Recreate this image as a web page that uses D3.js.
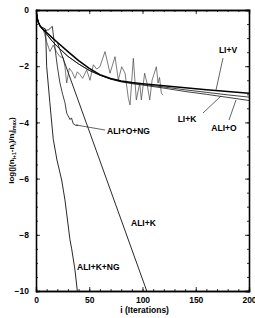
<!DOCTYPE html>
<html>
<head>
<meta charset="utf-8">
<script src="https://cdn.jsdelivr.net/npm/d3@7"></script>
<style>
  body { margin: 0; background: #fff; }
  text { font-family: "Liberation Sans", Arial, sans-serif; font-weight: bold; }
</style>
</head>
<body>
<svg id="chart"></svg>
<script>
// iterations (i) and log residuals for each run
var liV = [[0,0],[1,-0.3],[2,-0.42],[4,-0.58],[7,-0.7],[10,-0.8],[15,-0.98],[20,-1.15],[30,-1.48],[40,-1.8],[50,-2.08],[60,-2.3],[70,-2.44],[80,-2.53],[90,-2.58],[100,-2.62],[120,-2.7],[140,-2.77],[160,-2.84],[180,-2.9],[200,-2.96]];
var liK = [[0,0],[1,-0.3],[2,-0.42],[4,-0.58],[7,-0.72],[10,-0.86],[15,-1.1],[20,-1.3],[30,-1.65],[40,-1.92],[50,-2.15],[60,-2.32],[70,-2.45],[80,-2.54],[90,-2.6],[100,-2.65],[120,-2.74],[140,-2.84],[160,-2.93],[180,-3.02],[200,-3.1]];
var aliO = [[0,0],[1,-0.3],[2,-0.42],[4,-0.58],[7,-0.72],[10,-0.86],[15,-1.1],[20,-1.3],[30,-1.65],[40,-1.92],[50,-2.15],[60,-2.32],[70,-2.46],[80,-2.56],[90,-2.62],[100,-2.67],[120,-2.78],[140,-2.9],[160,-3.0],[180,-3.11],[200,-3.22]];
var aliONoisy = [[7,-0.72],[10,-1.13],[13.1,-1.48],[16.2,-1.25],[19.4,-1.5],[22.5,-1.66],[25.6,-1.7],[27.2,-2.02],[28.8,-2.6],[31.3,-2.07],[33.8,-2.2],[36.6,-2.43],[38.8,-2.2],[41.3,-2.3],[43.8,-2.43],[47.6,-2.13],[50.7,-2.5],[53.8,-1.95],[57,-2.1],[60,-2.02],[64.8,-1.48],[69.5,-2.25],[74.2,-1.66],[77.3,-2.49],[80.5,-2.02],[83.6,-2.25],[86.7,-3.14],[88.3,-3.38],[91.4,-1.72],[94.2,-3.2],[97.4,-2.6],[98.9,-3.2],[102,-2.25],[104.2,-2.6],[106.8,-3.2],[109,-2.5],[113,-2.02],[114.6,-2.6],[116,-2.4],[117.7,-2.96],[119.2,-3.03]];
var aliONG = [[0,0],[2,-0.42],[4,-0.58],[8,-0.74],[12,-0.7],[15.3,-0.58],[17,-1.1],[20,-2.0],[22.5,-2.6],[25,-3.0],[27.2,-3.3],[28.8,-3.67],[32,-3.9],[33.3,-3.84],[35,-4.05],[37,-4.1],[39.5,-4.1]];
var aliK = [[0,0],[2,-0.42],[4,-0.58],[8,-0.74],[14,-0.95],[20,-1.15],[104,-10]];
var aliKNG = [[0,0],[2,-0.42],[4,-0.58],[9,-0.68],[10,-2.0],[13,-3.3],[16.2,-4.6],[19.7,-5.34],[24.1,-6.05],[27.2,-6.76],[31.9,-8.18],[33.5,-8.5],[36.6,-9.25],[38.8,-10]];

var xTicks = [0, 50, 100, 150, 200];
var yTicks = [0, -2, -4, -6, -8, -10];

var W = 255, H = 318;
var margin = { top: 10, right: 6, bottom: 27, left: 36 };
var width = W - margin.left - margin.right;
var height = H - margin.top - margin.bottom;

var x = d3.scaleLinear().domain([0, 200]).range([0, width]);
var y = d3.scaleLinear().domain([0, -10]).range([0, height]);

var svg = d3.select("#chart").attr("width", W).attr("height", H);
var g = svg.append("g").attr("transform", "translate(" + margin.left + "," + margin.top + ")");

var line = d3.line().x(function (d) { return x(d[0]); }).y(function (d) { return y(d[1]); });

g.append("defs").append("clipPath").attr("id", "clip")
    .append("rect").attr("width", width).attr("height", height);

var plot = g.append("g").attr("clip-path", "url(#clip)");

function draw(data, w, col) {
    plot.append("path").datum(data)
        .attr("fill", "none").attr("stroke", col).attr("stroke-width", w)
        .attr("stroke-linejoin", "round")
        .attr("d", line);
}
draw(aliONoisy, 0.7, "#444");
draw(aliO, 0.8, "#111");
draw(liK, 0.8, "#111");
draw(aliONG, 0.8, "#111");
draw(aliK, 0.9, "#111");
draw(aliKNG, 0.9, "#111");
draw(liV, 1.5, "#000");

// axes (ticks inward, on all sides)
var xMinor = d3.range(0, 201, 10);
var yMinor = d3.range(0, -10.01, -0.5);

g.append("g").attr("transform", "translate(0," + height + ")")
    .call(d3.axisTop(x).tickValues(xMinor).tickSize(2).tickFormat(""));
g.append("g").attr("transform", "translate(0," + height + ")")
    .call(d3.axisBottom(x).tickValues(xTicks).tickSize(-4).tickPadding(6).tickFormat(d3.format("d")));
g.append("g")
    .call(d3.axisBottom(x).tickValues(xMinor).tickSize(2).tickFormat(""));
g.append("g")
    .call(d3.axisBottom(x).tickValues(xTicks).tickSize(4).tickFormat(""));

g.append("g")
    .call(d3.axisRight(y).tickValues(yMinor).tickSize(2).tickFormat(""));
g.append("g")
    .call(d3.axisLeft(y).tickValues(yTicks).tickSize(-4).tickPadding(7).tickFormat(d3.format("d")));
g.append("g").attr("transform", "translate(" + width + ",0)")
    .call(d3.axisLeft(y).tickValues(yMinor).tickSize(2).tickFormat(""));
g.append("g").attr("transform", "translate(" + width + ",0)")
    .call(d3.axisLeft(y).tickValues(yTicks).tickSize(4).tickFormat(""));

g.selectAll(".domain").attr("stroke", "#000").attr("stroke-width", 1.3);
g.selectAll(".tick line").attr("stroke", "#000").attr("stroke-width", 0.8);
g.selectAll(".tick text").attr("font-size", 8.5).attr("font-weight", "bold")
    .attr("font-family", "'Liberation Sans', Arial, sans-serif").attr("fill", "#000");

// labels with leader lines
var labels = [
    { t: "LI+V", lx: 228, ly: 53, a: "middle", x1: 223, y1: 58, x2: 216, y2: 90 },
    { t: "LI+K", lx: 187, ly: 122, a: "middle", x1: 203, y1: 113, x2: 221, y2: 96 },
    { t: "ALI+O", lx: 224, ly: 131, a: "middle", x1: 229, y1: 120, x2: 236, y2: 100 },
    { t: "ALI+O+NG", lx: 107, ly: 134, a: "start", x1: 76, y1: 125, x2: 105, y2: 130 },
    { t: "ALI+K", lx: 131, ly: 226, a: "start" },
    { t: "ALI+K+NG", lx: 77, ly: 270, a: "start" }
];
labels.forEach(function (l) {
    if (l.x1 !== undefined) {
        svg.append("line").attr("x1", l.x1).attr("y1", l.y1).attr("x2", l.x2).attr("y2", l.y2)
            .attr("stroke", "#222").attr("stroke-width", 0.7);
    }
    svg.append("text").attr("x", l.lx).attr("y", l.ly).attr("text-anchor", l.a)
        .attr("font-size", 8.5).text(l.t);
});

svg.append("text").attr("x", margin.left + x(102)).attr("y", 313)
    .attr("text-anchor", "middle").attr("font-size", 8.5).text("i (Iterations)");

var yt = svg.append("text").attr("transform", "translate(14," + (margin.top + height / 2) + ") rotate(-90)")
    .attr("text-anchor", "middle").attr("font-size", 8);
yt.append("tspan").text("log(|(n");
yt.append("tspan").attr("font-size", 5).attr("dy", 2).text("i+1");
yt.append("tspan").attr("dy", -2).text("-n");
yt.append("tspan").attr("font-size", 5).attr("dy", 2).text("i");
yt.append("tspan").attr("dy", -2).text(")/n");
yt.append("tspan").attr("font-size", 5).attr("dy", 2).text("i");
yt.append("tspan").attr("dy", -2).text("|");
yt.append("tspan").attr("font-size", 5).attr("dy", 2).text("max");
yt.append("tspan").attr("dy", -2).text(")");
</script>
</body>
</html>
